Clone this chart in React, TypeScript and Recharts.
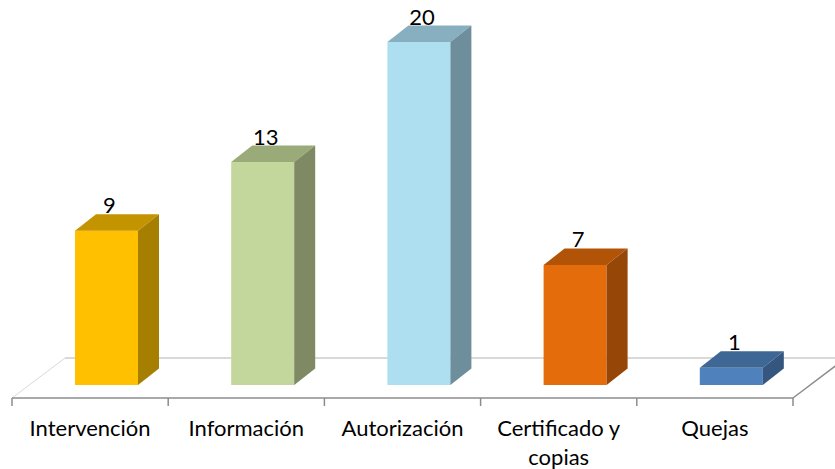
import React from 'react';
import { BarChart, Bar, XAxis, YAxis, ReferenceArea, LabelList } from 'recharts';

const categories = ['Intervención', 'Información', 'Autorización', 'Certificado y copias', 'Quejas'];
const values = [9, 13, 20, 7, 1];
const valueDomain = [0, 20];

const palette = [
  { front: '#FFC000', top: '#C49400', side: '#A67F00' },
  { front: '#C3D69B', top: '#9AAA78', side: '#7F8963' },
  { front: '#AEDFF0', top: '#88AFBF', side: '#6D8E9A' },
  { front: '#E46C0A', top: '#B25408', side: '#964607' },
  { front: '#4F81BD', top: '#3F6796', side: '#35577F' },
];

const data = categories.map((name, i) => ({ name, value: values[i] }));

const W = 835;
const H = 469;
const SX = 16; // bar offset into floor depth
const SY = 13;
const DX = 21; // bar depth
const DY = 16.5;
const FX = 53; // floor depth
const FY = 40;
const FONT = 'Lato, "Open Sans", sans-serif';
const FONT_SIZE = 22;
const LABEL_MAX_W = 140;
const LINE_H = 29;

let measureCtx: CanvasRenderingContext2D | null = null;
function measure(s: string): number {
  if (typeof document === 'undefined') return s.length * FONT_SIZE * 0.5;
  if (!measureCtx) {
    const c = document.createElement('canvas');
    measureCtx = c.getContext('2d');
  }
  if (!measureCtx) return s.length * FONT_SIZE * 0.5;
  measureCtx.font = `${FONT_SIZE}px ${FONT}`;
  return measureCtx.measureText(s).width;
}

function wrap(s: string): string[] {
  const words = s.split(' ');
  const lines: string[] = [];
  let cur = '';
  for (const w of words) {
    const cand = cur ? cur + ' ' + w : w;
    if (cur && measure(cand) > LABEL_MAX_W) {
      lines.push(cur);
      cur = w;
    } else {
      cur = cand;
    }
  }
  if (cur) lines.push(cur);
  return lines;
}

function Bar3D(props: any) {
  const { x, y, width, height, index } = props;
  if (width == null || height == null) return null;
  const fx = x + SX;
  const fy = y - SY;
  const b = fy + height;
  const c = palette[index % palette.length];
  return (
    <g>
      <rect x={fx} y={fy} width={width} height={height} fill={c.front} />
      <polygon
        points={`${fx},${fy} ${fx + DX},${fy - DY} ${fx + width + DX},${fy - DY} ${fx + width},${fy}`}
        fill={c.top}
      />
      <polygon
        points={`${fx + width},${fy} ${fx + width + DX},${fy - DY} ${fx + width + DX},${b - DY} ${fx + width},${b}`}
        fill={c.side}
      />
    </g>
  );
}

function Floor(props: any) {
  const { x, y, width, height } = props;
  const by = y + height;
  const n = categories.length;
  const ticks = [];
  for (let i = 0; i <= n; i++) {
    const tx = x + (width * i) / n;
    ticks.push(<line key={i} x1={tx} y1={by} x2={tx} y2={by + 8} stroke="#8c8c8c" strokeWidth={1.5} />);
  }
  return (
    <g>
      <line x1={x} y1={by} x2={x + FX} y2={by - FY} stroke="#d9d9d9" strokeWidth={1} />
      <line x1={x + FX} y1={by - FY} x2={x + width + FX} y2={by - FY} stroke="#d9d9d9" strokeWidth={2} />
      <line x1={x + width} y1={by} x2={x + width + FX} y2={by - FY} stroke="#8c8c8c" strokeWidth={1.5} />
      <line x1={x} y1={by} x2={x + width} y2={by} stroke="#8c8c8c" strokeWidth={1.5} />
      {ticks}
    </g>
  );
}

function AxisTick(props: any) {
  const { x, y, payload } = props;
  const lines = wrap(String(payload.value));
  return (
    <text x={x} y={y + 38} textAnchor="middle" fontSize={FONT_SIZE} fontFamily={FONT} fill="#000">
      {lines.map((l, i) => (
        <tspan key={i} x={x} dy={i === 0 ? 0 : LINE_H}>
          {l}
        </tspan>
      ))}
    </text>
  );
}

function ValueLabel(props: any) {
  const vb = props.viewBox || {};
  const x = props.x ?? vb.x;
  const y = props.y ?? vb.y;
  const width = props.width ?? vb.width;
  return (
    <text
      x={x + width / 2 + SX + 3}
      y={y - SY - DY - 1}
      textAnchor="middle"
      fontSize={FONT_SIZE}
      fontFamily={FONT}
      fill="#000"
    >
      {props.value}
    </text>
  );
}

export default function App() {
  return (
    <div style={{ position: 'absolute', left: 0, top: 0, width: W, height: H, background: '#fff' }}>
      <BarChart
        width={W}
        height={H}
        data={data}
        margin={{ top: 55, right: 42, bottom: 0, left: 12 }}
      >
        <YAxis hide domain={valueDomain} />
        <XAxis
          dataKey="name"
          axisLine={false}
          tickLine={false}
          tickSize={0}
          tickMargin={0}
          height={71}
          interval={0}
          tick={<AxisTick />}
        />
        <ReferenceArea
          x1={categories[0]}
          x2={categories[categories.length - 1]}
          ifOverflow="visible"
          shape={<Floor />}
        />
        <Bar dataKey="value" barSize={63} isAnimationActive={false} shape={<Bar3D />}>
          <LabelList dataKey="value" content={<ValueLabel />} />
        </Bar>
      </BarChart>
    </div>
  );
}
